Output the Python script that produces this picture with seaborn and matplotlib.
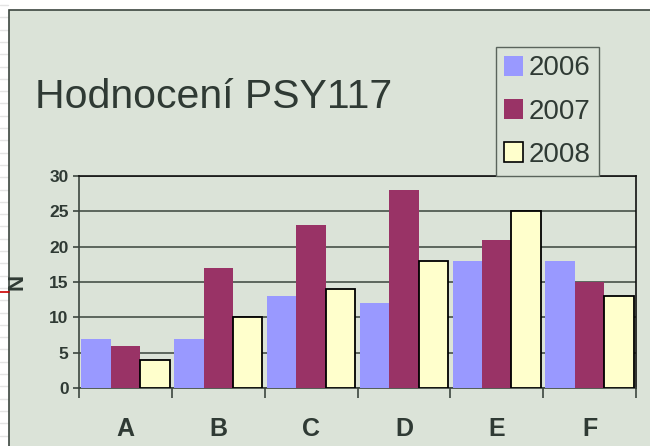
import numpy as np
import pandas as pd
import matplotlib
matplotlib.use("Agg")
import matplotlib.pyplot as plt
import matplotlib.patches as mpatches
from matplotlib.lines import Line2D
from matplotlib.ticker import FixedLocator
import seaborn as sns

# Daten
kategorien = ["A", "B", "C", "D", "E", "F"]
jahre = ["2006", "2007", "2008"]
werte_2006 = [7, 7, 13, 12, 18, 18]
werte_2007 = [6, 17, 23, 28, 21, 15]
werte_2008 = [4, 10, 14, 18, 25, 13]
y_ticks = [0, 5, 10, 15, 20, 25, 30]

farben = ["#9999ff", "#993366", "#ffffcc"]
hintergrund = "#dbe3d8"
textfarbe = "#2f3a34"

df = pd.DataFrame({
    "kategorie": kategorien * 3,
    "jahr": [j for j in jahre for _ in kategorien],
    "N": werte_2006 + werte_2007 + werte_2008,
})

sns.set_style("white")
plt.rcParams["font.family"] = ["Liberation Sans", "DejaVu Sans"]

W, H = 650, 446
fig = plt.figure(figsize=(W / 100, H / 100), dpi=100)
fig.patch.set_facecolor("white")

# feine Linien am linken Rand (Folienhintergrund)
for y in np.arange(5, H, 12.3):
    fig.add_artist(Line2D([0, 8 / W], [1 - y / H] * 2, transform=fig.transFigure,
                          color="#e4e4e4", linewidth=1.0, zorder=0))

# Rahmen des Diagrammbereichs
fig.add_artist(mpatches.Rectangle((9 / W, -0.01), 1.0, 1 - 10 / H + 0.01,
                                  transform=fig.transFigure, facecolor=hintergrund,
                                  edgecolor="#3c463f", linewidth=1.2, zorder=0))
fig.add_artist(Line2D([0, 9 / W], [1 - 292 / H] * 2, transform=fig.transFigure,
                      color="#cc0000", linewidth=1.2))

ax = fig.add_axes([79 / W, 1 - 388 / H, (636 - 79) / W, (388 - 176) / H])
ax.set_facecolor("none")

sns.barplot(data=df, x="kategorie", y="N", hue="jahr", palette=farben,
            width=0.95, gap=0, saturation=1, linewidth=0, ax=ax, legend=False,
            zorder=3)

# 2008 mit schwarzem Rand
for bar in ax.containers[2]:
    bar.set_edgecolor("black")
    bar.set_linewidth(1.3)

ax.set_ylim(0, 30)
ax.set_xlim(-0.5, 5.5)
ax.set_yticks(y_ticks)
ax.yaxis.grid(True, color="#3a443c", linewidth=1.1, zorder=0)
ax.set_axisbelow(True)

ax.xaxis.set_minor_locator(FixedLocator(np.arange(-0.5, 6.0, 1.0)))
ax.tick_params(axis="x", which="major", length=0, pad=21, labelsize=18,
               labelcolor=textfarbe)
ax.tick_params(axis="x", which="minor", length=7, width=1.2, color="#3c463f",
               direction="out", bottom=True)
ax.tick_params(axis="y", length=4.5, width=1.2, color="#3c463f", direction="out",
               left=True, labelsize=12.5, labelcolor=textfarbe, pad=3)
for lab in ax.get_xticklabels() + ax.get_yticklabels():
    lab.set_fontweight("bold")

ax.set_xlabel("")
ax.set_ylabel("N", fontsize=16, fontweight="bold", color=textfarbe)
ax.yaxis.set_label_coords((28 - 79) / (636 - 79), (388 - 282) / (388 - 176))

for side in ["left", "bottom"]:
    ax.spines[side].set_color("#3c463f")
    ax.spines[side].set_linewidth(1.2)
for side in ["top", "right"]:
    ax.spines[side].set_color("#111111")
    ax.spines[side].set_linewidth(1.2)

# Titel
fig.text(35 / W, 1 - 108 / H, "Hodnocení PSY117", fontsize=29.5, color=textfarbe,
         va="baseline")

# Legende
handles = [
    mpatches.Patch(facecolor=farben[0], edgecolor="none", label=jahre[0]),
    mpatches.Patch(facecolor=farben[1], edgecolor="none", label=jahre[1]),
    mpatches.Patch(facecolor=farben[2], edgecolor="black", linewidth=1.2, label=jahre[2]),
]
leg = fig.legend(handles=handles, loc="upper left",
                 bbox_to_anchor=(496 / W, 1 - 47 / H),
                 prop={"size": 20},
                 handlelength=0.68, handleheight=0.72, handletextpad=0.2,
                 labelspacing=0.62, borderpad=0.3, borderaxespad=0,
                 frameon=True, fancybox=False, framealpha=1)
leg.get_frame().set_facecolor(hintergrund)
leg.get_frame().set_edgecolor("#5a645c")
leg.get_frame().set_linewidth(1.0)
for t in leg.get_texts():
    t.set_color(textfarbe)

fig.savefig("out.png", dpi=100, facecolor=fig.get_facecolor())
